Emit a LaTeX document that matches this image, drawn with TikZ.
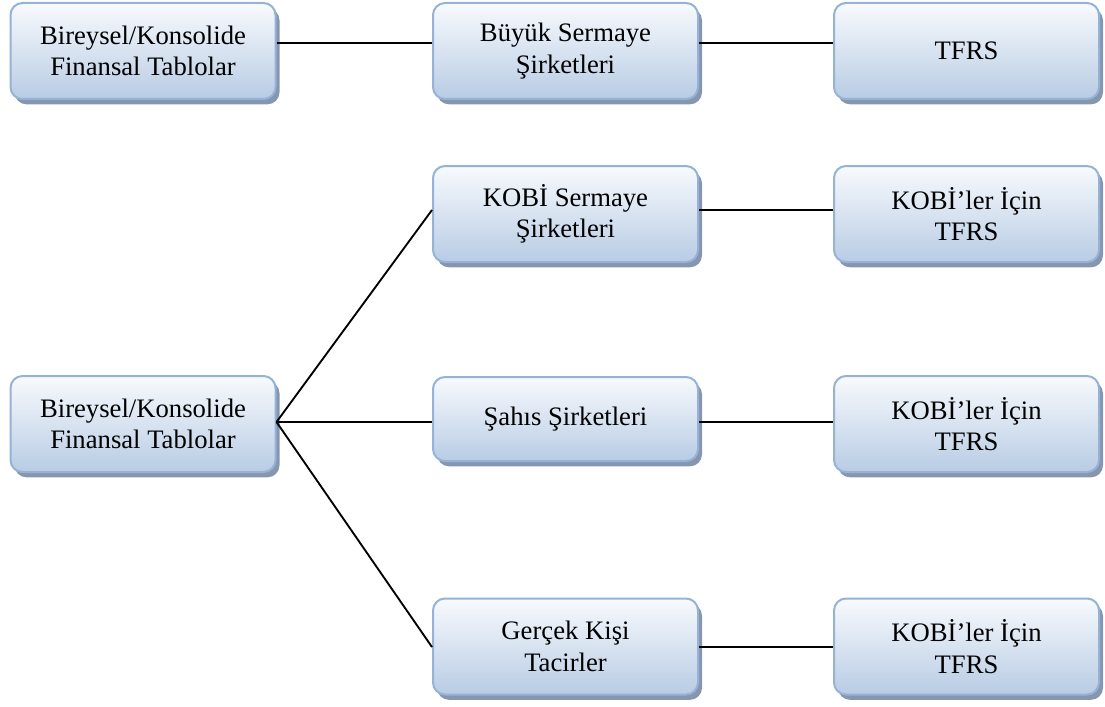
\documentclass[tikz,border=0pt]{standalone}
\usepackage{fontspec}
\setmainfont{Liberation Serif}
\usetikzlibrary{shadows}
\definecolor{boxborder}{RGB}{149,179,215}
\definecolor{boxtop}{RGB}{248,250,253}
\definecolor{boxbot}{RGB}{184,204,228}
\definecolor{shadowc}{RGB}{135,150,175}
\tikzset{
  stepbox/.style={rounded corners=9pt, draw=boxborder, line width=1.5pt,
    top color=boxtop, bottom color=boxbot,
    drop shadow={shadow xshift=3pt, shadow yshift=-4pt, fill=shadowc, opacity=1},
    minimum width=198.75pt, minimum height=72pt, align=center, inner sep=2pt,
    font=\fontsize{20}{23.5}\selectfont},
  shortbox/.style={stepbox, minimum height=63pt},
  link/.style={draw=black, line width=1.4pt}
}
\begin{document}
\begin{tikzpicture}[x=0.75pt, y=-0.75pt]
\useasboundingbox (0,0) rectangle (1105,706);
% row 1
\node[stepbox] (a1) at (143,51) {Bireysel/Konsolide\\Finansal Tablolar};
\node[stepbox] (b1) at (565.5,51) {Büyük Sermaye\\Şirketleri};
\node[stepbox] (c1) at (966.5,51) {TFRS};
% lower group
\node[stepbox] (b2) at (565.5,214) {KOBİ Sermaye\\Şirketleri};
\node[stepbox] (c2) at (966.5,214) {KOBİ’ler İçin\\TFRS};
\node[stepbox] (a3) at (143,424) {Bireysel/Konsolide\\Finansal Tablolar};
\node[shortbox] (b3) at (565.5,419) {Şahıs Şirketleri};
\node[stepbox] (c3) at (966.5,424) {KOBİ’ler İçin\\TFRS};
\node[stepbox] (b4) at (565.5,646.5) {Gerçek Kişi\\Tacirler};
\node[stepbox] (c4) at (966.5,646.5) {KOBİ’ler İçin\\TFRS};
% connectors
\draw[link] ([yshift=6pt]a1.east) -- ([yshift=6pt]b1.west);
\draw[link] ([yshift=6pt]b1.east) -- ([yshift=6pt]c1.west);
\draw[link] ([yshift=1.5pt]a3.east) -- ([yshift=3pt]b2.west);
\draw[link] ([yshift=1.5pt]a3.east) -- ([yshift=-2.25pt]b3.west);
\draw[link] ([yshift=1.5pt]a3.east) -- ([yshift=-0.4pt]b4.west);
\draw[link] ([yshift=3pt]b2.east) -- ([yshift=3pt]c2.west);
\draw[link] ([yshift=-2.25pt]b3.east) -- ([yshift=1.5pt]c3.west);
\draw[link] ([yshift=-0.4pt]b4.east) -- ([yshift=-0.4pt]c4.west);
\end{tikzpicture}
\end{document}
